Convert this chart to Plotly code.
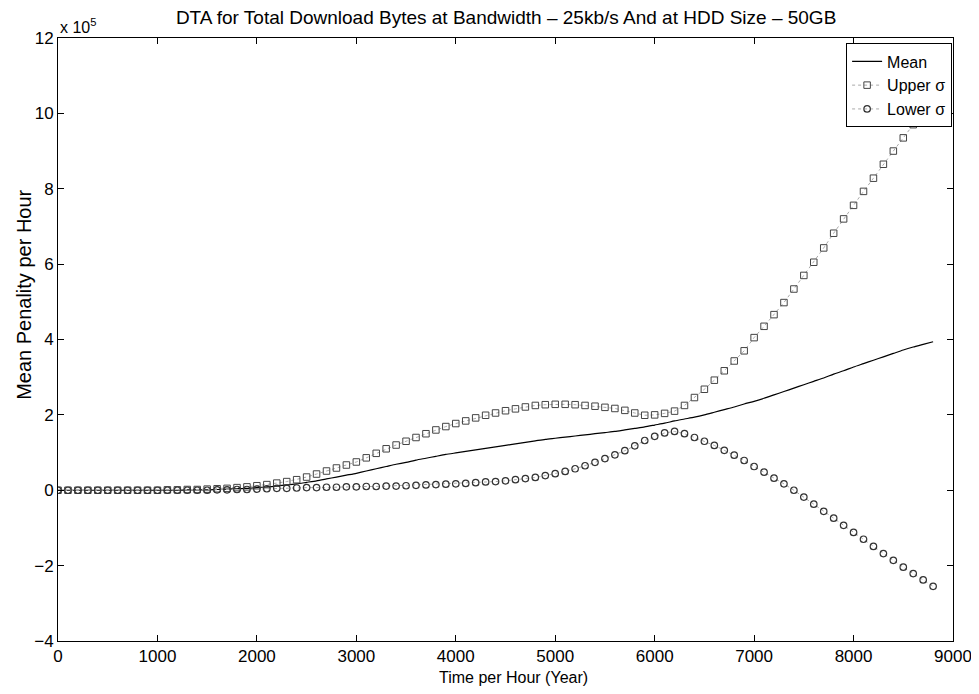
import plotly.graph_objects as go

# Time per hour (x axis)
hours = [h * 100 for h in range(89)]

# Values in units of 1e5
mean_vals = [0, 0, 0, 0, 0, 0, 0, 0, 0, 0, 0, 0, 0, 0.01, 0.01, 0.01,
             0.02, 0.03, 0.04, 0.05, 0.07, 0.09, 0.11, 0.14, 0.17, 0.21,
             0.25, 0.30, 0.35, 0.40, 0.45, 0.51, 0.57, 0.63, 0.69, 0.74,
             0.80, 0.85, 0.90, 0.95, 0.99, 1.03, 1.07, 1.11, 1.15, 1.19,
             1.23, 1.27, 1.31, 1.35, 1.38, 1.41, 1.44, 1.47, 1.50, 1.53,
             1.56, 1.60, 1.64, 1.68, 1.73, 1.78, 1.84, 1.89, 1.94, 2.00,
             2.07, 2.14, 2.21, 2.29, 2.36, 2.44, 2.53, 2.62, 2.71, 2.80,
             2.89, 2.98, 3.08, 3.17, 3.27, 3.36, 3.45, 3.54, 3.63, 3.72,
             3.80, 3.87, 3.94]

upper_vals = [0, 0, 0, 0, 0, 0, 0, 0, 0, 0, 0, 0.01, 0.01, 0.02, 0.02, 0.03,
              0.04, 0.05, 0.07, 0.09, 0.12, 0.15, 0.19, 0.23, 0.28, 0.35,
              0.43, 0.51, 0.59, 0.67, 0.75, 0.86, 0.98, 1.10, 1.20, 1.30,
              1.40, 1.50, 1.60, 1.69, 1.77, 1.84, 1.92, 1.99, 2.05, 2.11,
              2.16, 2.21, 2.25, 2.27, 2.28, 2.28, 2.27, 2.25, 2.23, 2.20,
              2.17, 2.12, 2.05, 1.99, 2.00, 2.04, 2.10, 2.25, 2.46, 2.68,
              2.92, 3.17, 3.43, 3.70, 4.05, 4.35, 4.66, 4.98, 5.34, 5.70,
              6.05, 6.43, 6.82, 7.20, 7.56, 7.93, 8.28, 8.65, 9.00, 9.35,
              9.70, 10.05, 10.40]

lower_vals = [0, 0, 0, 0, 0, 0, 0, 0, 0, 0, 0, 0, 0, 0, 0, 0,
              0.01, 0.01, 0.02, 0.02, 0.03, 0.04, 0.05, 0.05, 0.06, 0.07,
              0.07, 0.08, 0.08, 0.09, 0.09, 0.10, 0.10, 0.11, 0.11, 0.12,
              0.13, 0.14, 0.15, 0.16, 0.17, 0.18, 0.20, 0.22, 0.23, 0.25,
              0.28, 0.31, 0.34, 0.39, 0.44, 0.50, 0.57, 0.65, 0.74, 0.84,
              0.94, 1.05, 1.18, 1.32, 1.43, 1.52, 1.56, 1.50, 1.40, 1.30,
              1.19, 1.06, 0.93, 0.79, 0.63, 0.48, 0.32, 0.17, 0.00, -0.18,
              -0.37, -0.56, -0.74, -0.93, -1.12, -1.30, -1.49, -1.68, -1.86, -2.04,
              -2.21, -2.38, -2.55]

x_ticks = [0, 1000, 2000, 3000, 4000, 5000, 6000, 7000, 8000, 9000]
y_ticks = [-4, -2, 0, 2, 4, 6, 8, 10, 12]

FONT = "Liberation Sans, Arial, sans-serif"

fig = go.Figure()
fig.add_trace(go.Scatter(
    x=hours, y=mean_vals, mode="lines", name="Mean",
    line=dict(color="black", width=1.2, shape="spline", smoothing=0.6)))
fig.add_trace(go.Scatter(
    x=hours, y=upper_vals, mode="lines+markers", name="Upper σ",
    line=dict(color="#aaaaaa", width=1, dash="dot"),
    marker=dict(symbol="square-open", size=6.5, color="#444444", line=dict(width=1))))
fig.add_trace(go.Scatter(
    x=hours, y=lower_vals, mode="lines+markers", name="Lower σ",
    line=dict(color="#aaaaaa", width=1, dash="dot"),
    marker=dict(symbol="circle-open", size=6.5, color="#333333", line=dict(width=1.2))))

axis_common = dict(
    showline=True, linecolor="black", linewidth=1, mirror="ticks",
    ticks="inside", ticklen=6, tickcolor="black", showgrid=False,
    zeroline=False, automargin=False, ticklabeloverflow="allow",
    tickfont=dict(family=FONT, size=17, color="black"),
)

# The page body has an 8px margin; the figure is sized to end at the window edge.
fig.update_layout(
    width=971, height=686,
    paper_bgcolor="white", plot_bgcolor="white",
    margin=dict(l=50, r=26, t=30, b=53, autoexpand=False),
    font=dict(family=FONT, size=16, color="black"),
    title=dict(
        text="DTA for Total Download Bytes at Bandwidth – 25kb/s And at HDD Size – 50GB",
        x=0.513, xanchor="center", y=0.996, yanchor="top", pad=dict(t=0, b=0),
        font=dict(family=FONT, size=19, color="black")),
    xaxis=dict(range=[0, 9000], tickvals=x_ticks, **axis_common),
    yaxis=dict(range=[-4, 12], tickvals=y_ticks, **axis_common),
    legend=dict(x=0.999, xanchor="right", y=0.991, yanchor="top",
                bgcolor="white", bordercolor="black", borderwidth=1,
                font=dict(family=FONT, size=16, color="black"),
                tracegroupgap=0, itemwidth=30),
    showlegend=True,
)

# Axis titles placed as in the reference
fig.add_annotation(
    text="Time per Hour (Year)", xref="paper", yref="paper",
    x=0.509, y=-0.06, xanchor="center", yanchor="middle", showarrow=False,
    font=dict(family=FONT, size=16, color="black"))
fig.add_annotation(
    text="Mean Penality per Hour", xref="paper", yref="paper", textangle=-90,
    x=-0.038, y=0.574, xanchor="center", yanchor="middle", showarrow=False,
    font=dict(family=FONT, size=20, color="black"))

fig.add_annotation(
    text="x 10<sup>5</sup>", xref="paper", yref="paper",
    x=0.0, y=1.0, xanchor="left", yanchor="bottom", showarrow=False,
    font=dict(family=FONT, size=16, color="black"))

fig.write_html("out.html")
